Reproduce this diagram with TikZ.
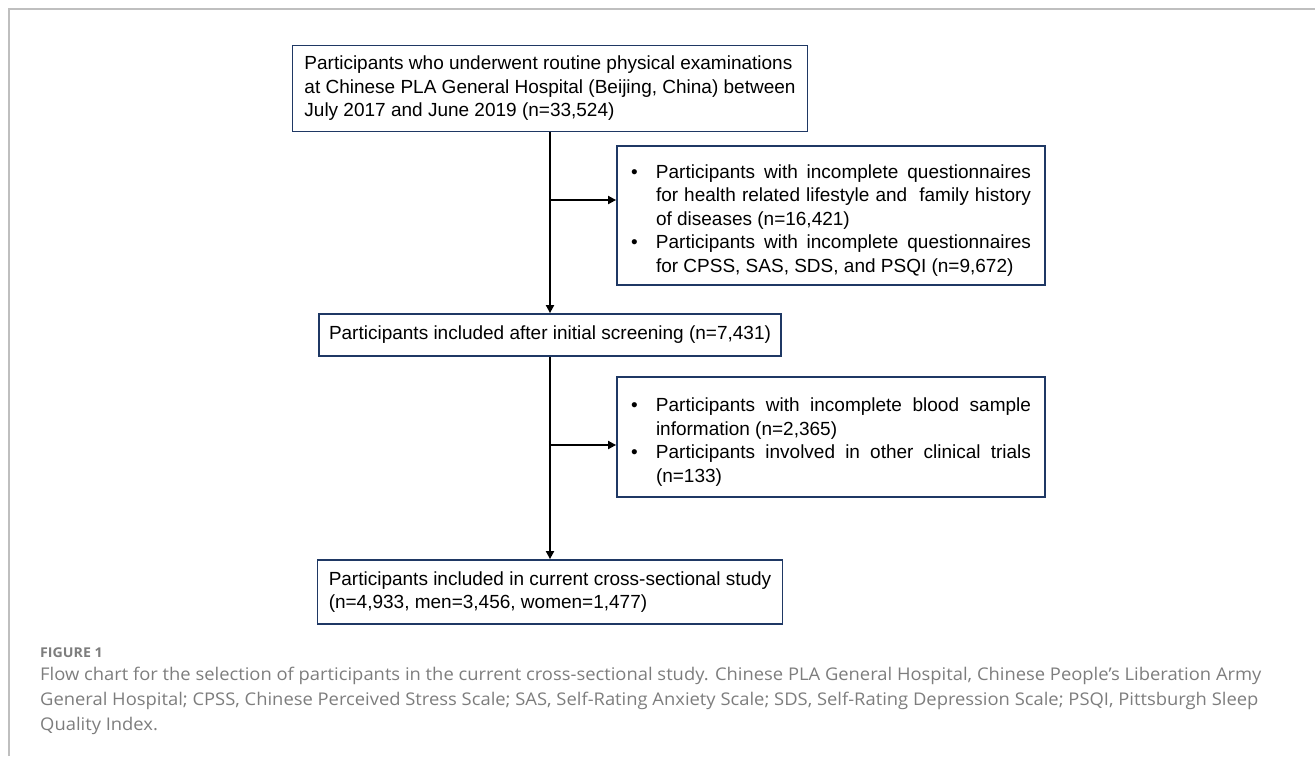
\documentclass[tikz,border=0pt]{standalone}
\usepackage{fontspec}
\setmainfont{Liberation Sans}
\newfontfamily\capfont[FakeStretch=1.05]{Open Sans}
\usetikzlibrary{arrows.meta}

\definecolor{rahmenblau}{RGB}{31,56,100}
\definecolor{capgrau}{RGB}{125,125,125}
\newcommand{\punkt}{\par\noindent\hangindent=25pt\hangafter=1\makebox[25pt][l]{\textbullet}}

\begin{document}
\begin{tikzpicture}[x=1pt, y=-1pt,
    box/.style = {draw=rahmenblau, line width=1.8pt, inner ysep=4pt,
                  font=\fontsize{19}{23.5}\selectfont},
    pfeil/.style = {line width=1.8pt, -{Triangle[length=8pt, width=8pt]}},
    legende/.style = {anchor=base west, inner sep=0pt, text=capgrau,
                  font=\capfont\fontsize{17.5}{25}\selectfont}]
    \useasboundingbox (0,0) rectangle (1315,756);
    \draw [black!25, line width=1.2pt] (9,756) -- (9,9) -- (1315,9);  %Rahmen

    %Kaesten
    \node [box, minimum width=515pt, minimum height=86pt, align=left] (start) at (550,88.5)
        {Participants who underwent routine physical examinations\\ at Chinese PLA General Hospital (Beijing, China) between\\ July 2017 and June 2019 (n=33,524)};
    \node [box, text width=400pt, inner xsep=14pt, minimum height=139pt, align=justify] (aus1) at (831,215.5)
        {\punkt Participants with incomplete questionnaires\linebreak for health related lifestyle and\ \ family history\linebreak of diseases (n=16,421)
         \punkt Participants with incomplete questionnaires\linebreak for CPSS, SAS, SDS, and PSQI (n=9,672)\par};
    \node [box, minimum width=462pt, minimum height=42pt, inner xsep=6pt] (mitte) at (550,335)
        {Participants included after initial screening (n=7,431)};
    \node [box, text width=400pt, inner xsep=14pt, minimum height=120pt, align=justify] (aus2) at (831,437)
        {\punkt Participants with incomplete blood sample\linebreak information (n=2,365)
         \punkt Participants involved in other clinical trials\linebreak (n=133)\par};
    \node [box, minimum width=465pt, minimum height=64pt, align=left] (ende) at (550,592)
        {Participants included in current cross-sectional study\\ (n=4,933, men=3,456, women=1,477)};

    %Pfeile
    \coordinate (ast1) at (550,200);
    \coordinate (ast2) at (550,445);
    \draw [pfeil] (start.south) -- (mitte.north);
    \draw [pfeil] (ast1) -- (ast1 -| aus1.west);
    \draw [pfeil] (mitte.south) -- (ende.north);
    \draw [pfeil] (ast2) -- (ast2 -| aus2.west);

    %Beschriftung
    \node [legende, font=\capfont\bfseries\fontsize{13.5}{15}\selectfont] (fig) at (40,657) {FIGURE 1};
    \node [legende] (cap1) at (40,680) {Flow chart for the selection of participants in the current cross-sectional study. Chinese PLA General Hospital, Chinese People’s Liberation Army};
    \node [legende] (cap2) at (40,705) {General Hospital; CPSS, Chinese Perceived Stress Scale; SAS, Self-Rating Anxiety Scale; SDS, Self-Rating Depression Scale; PSQI, Pittsburgh Sleep};
    \node [legende] (cap3) at (40,730) {Quality Index.};
\end{tikzpicture}
\end{document}
